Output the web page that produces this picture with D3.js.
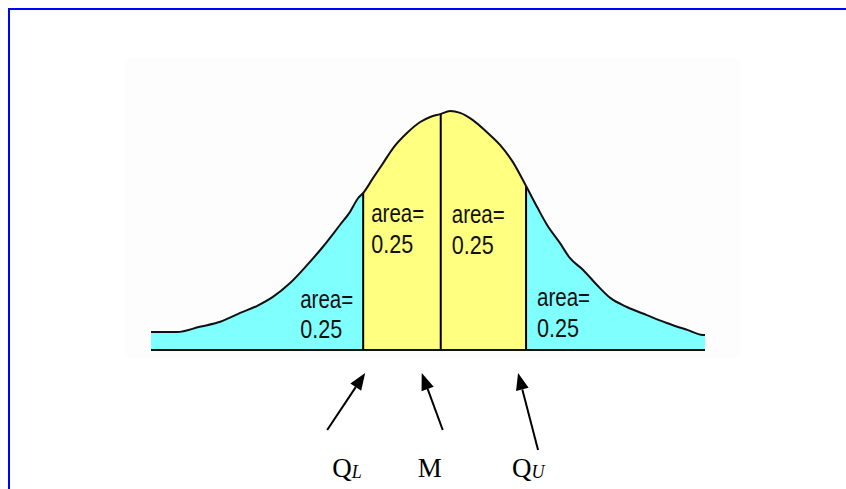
<!DOCTYPE html>
<html>
<head>
<meta charset="utf-8">
<script src="https://cdn.jsdelivr.net/npm/d3@7"></script>
<style>
  html, body { margin: 0; padding: 0; background: #ffffff; }
  svg { display: block; }
</style>
</head>
<body>
<svg id="chart" width="846" height="489"></svg>
<script>
// Position along the value axis (0..100) and relative density height (peak = 1)
const values  = [0, 4.7, 8.8, 12.5, 16.1, 19.1, 22.0, 25.1, 28.2, 31.0, 34.1, 35.9, 37.4, 38.3,
                 40.1, 41.9, 43.7, 46.2, 48.6, 50.4, 52.2, 54.0, 55.8, 58.1, 60.6, 63.0, 65.3,
                 67.7, 69.7, 71.5, 73.8, 75.6, 78.0, 80.5, 82.9, 85.9, 89.5, 93.1, 96.8, 99.6, 100];
const density = [0.075, 0.075, 0.097, 0.118, 0.155, 0.184, 0.222, 0.280, 0.356, 0.431, 0.523, 0.577, 0.636, 0.657,
                 0.720, 0.782, 0.845, 0.908, 0.954, 0.975, 0.987, 1.000, 0.992, 0.962, 0.912, 0.858, 0.787,
                 0.686, 0.598, 0.523, 0.448, 0.385, 0.335, 0.272, 0.218, 0.180, 0.146, 0.113, 0.084, 0.063, 0.063];

// Lower quartile, median, upper quartile
const quartiles = [38.3, 52.3, 67.7];
const areaShares = [0.25, 0.25, 0.25, 0.25];
const markerNames = [
  { main: "Q", sub: "L" },
  { main: "M", sub: "" },
  { main: "Q", sub: "U" }
];

const svg = d3.select("#chart");

const x = d3.scaleLinear().domain([0, 100]).range([151, 705]);
const y = d3.scaleLinear().domain([0, 1]).range([350, 111]);

const pts = values.map((v, i) => ({ v, d: density[i] }));

// Frame: top and left rules
svg.append("line").attr("x1", 8).attr("x2", 846).attr("y1", 9).attr("y2", 9)
  .attr("stroke", "#0000ff").attr("stroke-width", 2);
svg.append("line").attr("x1", 9).attr("x2", 9).attr("y1", 8).attr("y2", 489)
  .attr("stroke", "#0000ff").attr("stroke-width", 2);

// Faint panel behind the curve
svg.append("rect").attr("x", 125).attr("y", 58).attr("width", 616).attr("height", 300)
  .attr("fill", "#fdfdfd");

const area = d3.area().x(p => x(p.v)).y0(y(0)).y1(p => y(p.d)).curve(d3.curveMonotoneX);
const line = d3.line().x(p => x(p.v)).y(p => y(p.d)).curve(d3.curveMonotoneX);

const defs = svg.append("defs");
defs.append("clipPath").attr("id", "under-curve")
  .append("path").attr("d", area(pts));
defs.append("clipPath").attr("id", "middle-half")
  .append("rect")
  .attr("x", x(quartiles[0])).attr("y", 0)
  .attr("width", x(quartiles[2]) - x(quartiles[0])).attr("height", 489);

// Tails (cyan) and middle half (yellow)
svg.append("path").attr("d", area(pts)).attr("fill", "#80ffff");
svg.append("path").attr("d", area(pts)).attr("fill", "#ffff80")
  .attr("clip-path", "url(#middle-half)");

// Quartile and median dividers, cut off at the curve
svg.append("g").attr("clip-path", "url(#under-curve)")
  .selectAll("line").data(quartiles).join("line")
  .attr("x1", d => x(d)).attr("x2", d => x(d))
  .attr("y1", y(0)).attr("y2", y(1.05))
  .attr("stroke", "#000").attr("stroke-width", 2);

// Curve outline and baseline
svg.append("path").attr("d", line(pts)).attr("fill", "none")
  .attr("stroke", "#111").attr("stroke-width", 2);
svg.append("line").attr("x1", x(0)).attr("x2", x(100)).attr("y1", y(0)).attr("y2", y(0))
  .attr("stroke", "#111").attr("stroke-width", 2);

// Area labels
const labelFont = "'Liberation Sans', Arial, sans-serif";
const areaLabels = [
  { x: x(quartiles[0]) - 63, y1: 308, y2: 338 },
  { x: x(quartiles[0]) + 8,  y1: 222, y2: 253 },
  { x: x(quartiles[1]) + 11, y1: 223, y2: 254 },
  { x: x(quartiles[2]) + 11, y1: 306, y2: 337 }
];
const lab = svg.append("g").attr("font-family", labelFont).attr("font-size", 25).attr("fill", "#111");
areaLabels.forEach((p, i) => {
  lab.append("text").attr("x", p.x).attr("y", p.y1)
    .attr("textLength", 53).attr("lengthAdjust", "spacingAndGlyphs").text("area=");
  lab.append("text").attr("x", p.x).attr("y", p.y2)
    .attr("textLength", 42).attr("lengthAdjust", "spacingAndGlyphs").text(areaShares[i].toFixed(2));
});

// Arrows pointing at each divider
const arrows = [
  { tail: [x(quartiles[0]) - 36, 430], tip: [x(quartiles[0]) + 2, 373] },
  { tail: [x(quartiles[1]) + 2, 430],  tip: [x(quartiles[1]) - 19, 373] },
  { tail: [x(quartiles[2]) + 12, 450], tip: [x(quartiles[2]) - 8, 373] }
];
const ag = svg.append("g");
arrows.forEach(a => {
  const dx = a.tip[0] - a.tail[0], dy = a.tip[1] - a.tail[1];
  const len = Math.hypot(dx, dy), ux = dx / len, uy = dy / len;
  const headLen = 17, headHalf = 6.5;
  const bx = a.tip[0] - ux * headLen, by = a.tip[1] - uy * headLen;
  ag.append("line").attr("x1", a.tail[0]).attr("y1", a.tail[1]).attr("x2", bx).attr("y2", by)
    .attr("stroke", "#000").attr("stroke-width", 2);
  ag.append("path")
    .attr("d", `M${a.tip[0]},${a.tip[1]}L${bx - uy * headHalf},${by + ux * headHalf}L${bx + uy * headHalf},${by - ux * headHalf}Z`)
    .attr("fill", "#000");
});

// Marker names under the arrows
const nameX = [x(quartiles[0]) - 31, x(quartiles[1]) - 23, x(quartiles[2]) - 14];
const ng = svg.append("g").attr("font-family", "'Liberation Serif', 'Times New Roman', serif").attr("fill", "#000");
markerNames.forEach((m, i) => {
  const t = ng.append("text").attr("x", nameX[i]).attr("y", 477).attr("font-size", 27);
  t.append("tspan").text(m.main);
  if (m.sub) {
    t.append("tspan").attr("font-size", 18).attr("font-style", "italic").attr("dy", 1).text(m.sub);
  }
});
</script>
</body>
</html>
